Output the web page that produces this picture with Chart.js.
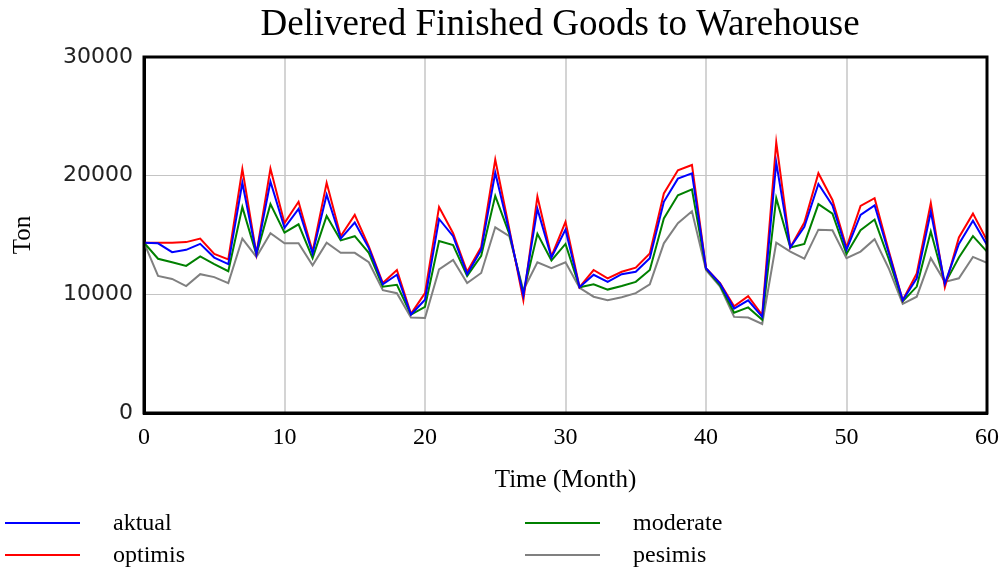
<!DOCTYPE html>
<html>
<head>
<meta charset="utf-8">
<script src="https://cdn.jsdelivr.net/npm/chart.js@4/dist/chart.umd.min.js"></script>
<style>
  body { margin: 0; background: #fff; }
  #wrap { width: 1003px; height: 569px; }
</style>
</head>
<body>
<div id="wrap"><canvas id="chart" width="1003" height="569"></canvas></div>
<script>
// months 0..60
const months = Array.from({length: 61}, (_, i) => i);

const aktual = [14350, 14300, 13550, 13750, 14250, 13100, 12550, 19400, 13400, 19500,
  15600, 17200, 13450, 18400, 14700, 16050, 13900, 10850, 11650, 8300,
  9550, 16350, 14900, 11700, 13750, 20250, 15300, 9900, 17200, 13100,
  15450, 10600, 11650, 11050, 11700, 11900, 13050, 17800, 19750, 20200,
  12200, 10900, 8800, 9500, 8100, 21100, 13950, 15700, 19300, 17500,
  13750, 16700, 17500, 13500, 9500, 11350, 16950, 10900, 14250, 16200, 14150];

const optimis = [14350, 14350, 14350, 14400, 14700, 13400, 12950, 20550, 13400, 20600,
  16000, 17800, 13600, 19400, 14900, 16700, 14050, 10950, 12050, 8350,
  10100, 17350, 15150, 11900, 14000, 21350, 15500, 9500, 18250, 13200,
  16100, 10600, 12050, 11350, 11900, 12250, 13450, 18500, 20450, 20900,
  12200, 10950, 9000, 9850, 8250, 22800, 13950, 16050, 20200, 17950,
  13950, 17450, 18100, 13700, 9500, 11750, 17700, 10600, 14800, 16800, 14550];

const moderate = [14350, 13000, 12700, 12400, 13200, 12550, 11950, 17350, 13350, 17600,
  15200, 15900, 13050, 16600, 14550, 14900, 13500, 10650, 10800, 8300,
  8950, 14500, 14150, 11550, 13250, 18300, 15100, 10100, 15100, 12850,
  14250, 10600, 10850, 10400, 10700, 11050, 12050, 16400, 18350, 18850,
  12150, 10750, 8450, 8900, 7850, 18100, 13950, 14250, 17600, 16800,
  13400, 15400, 16300, 13000, 9400, 10650, 15300, 10900, 13100, 14900, 13600];

const pesimis = [14350, 11550, 11300, 10700, 11700, 11450, 10950, 14700, 13150, 15150,
  14300, 14300, 12450, 14350, 13500, 13500, 12700, 10350, 10100, 8050,
  8000, 12100, 12900, 10950, 11800, 15650, 14900, 10350, 12700, 12200,
  12700, 10550, 9800, 9500, 9750, 10100, 10850, 14300, 16000, 17000,
  12050, 10650, 8100, 8050, 7500, 14350, 13600, 13000, 15450, 15400,
  13050, 13600, 14650, 12200, 9200, 9800, 13050, 11050, 11350, 13150, 12650];

const serif = '"Liberation Serif", "Times New Roman", serif';

function line(label, data, color) {
    return {
        label: label,
        data: data,
        borderColor: color,
        backgroundColor: color,
        borderWidth: 2,
        pointRadius: 0,
        tension: 0,
        fill: false
    };
}

// title, frame and legend are drawn by hand to match the original layout
const decor = {
    id: 'decor',
    afterDatasetsDraw(chart) {
        const ctx = chart.ctx;
        const a = chart.chartArea;
        ctx.save();
        ctx.strokeStyle = '#000';
        ctx.lineWidth = 3;
        ctx.strokeRect(a.left, a.top, a.right - a.left, a.bottom - a.top);
        ctx.restore();
    },
    afterDraw(chart) {
        const ctx = chart.ctx;
        ctx.save();
        ctx.fillStyle = '#000';
        ctx.font = '37px ' + serif;
        ctx.textAlign = 'center';
        ctx.textBaseline = 'middle';
        ctx.fillText('Delivered Finished Goods to Warehouse', 560, 25);

        // legend: two columns, two rows
        const spots = [[5, 523], [525, 523], [5, 555], [525, 555]];
        const order = [0, 2, 1, 3];
        ctx.font = '24px ' + serif;
        ctx.textAlign = 'left';
        order.forEach((di, k) => {
            const ds = chart.data.datasets[di];
            const [x, y] = spots[k];
            ctx.strokeStyle = ds.borderColor;
            ctx.lineWidth = 2;
            ctx.beginPath();
            ctx.moveTo(x, y);
            ctx.lineTo(x + 75, y);
            ctx.stroke();
            ctx.fillText(ds.label, x + 108, y + 1);
        });
        ctx.restore();
    }
};

const chart = new Chart(document.getElementById('chart').getContext('2d'), {
    type: 'line',
    data: {
        labels: months,
        datasets: [
            line('aktual', aktual, '#0000ff'),
            line('optimis', optimis, '#ff0000'),
            line('moderate', moderate, '#008000'),
            line('pesimis', pesimis, '#808080')
        ]
    },
    options: {
        responsive: false,
        animation: false,
        layout: { padding: { top: 57, right: 16, bottom: 74, left: 0 } },
        plugins: {
            legend: { display: false },
            title: { display: false },
            tooltip: { enabled: false }
        },
        scales: {
            x: {
                type: 'linear',
                min: 0,
                max: 60,
                afterFit: s => {
                    s.height = 82;
                    s.paddingLeft = 0;
                    s.paddingRight = 0;
                },
                ticks: {
                    stepSize: 10,
                    color: '#000',
                    padding: 10,
                    maxRotation: 0,
                    font: { family: serif, size: 24 }
                },
                grid: { color: '#d4d4d4', lineWidth: 2, drawTicks: false },
                border: { display: true, color: '#000', width: 3 },
                title: {
                    display: true,
                    text: 'Time (Month)',
                    color: '#000',
                    font: { family: serif, size: 25 },
                    padding: { top: 0, bottom: 0 }
                }
            },
            y: {
                min: 0,
                max: 30000,
                afterFit: s => { s.width = 144; },
                ticks: {
                    stepSize: 10000,
                    color: '#222',
                    padding: 11,
                    font: { family: '"DejaVu Sans", Verdana, sans-serif', size: 22 },
                    callback: v => String(v)
                },
                grid: { color: '#c4c4c4', lineWidth: 1, drawTicks: false },
                border: { display: true, color: '#000', width: 3 },
                title: {
                    display: true,
                    text: 'Ton',
                    color: '#000',
                    font: { family: serif, size: 25 },
                    padding: { top: 8, bottom: 0 }
                }
            }
        }
    },
    plugins: [decor]
});
</script>
</body>
</html>
